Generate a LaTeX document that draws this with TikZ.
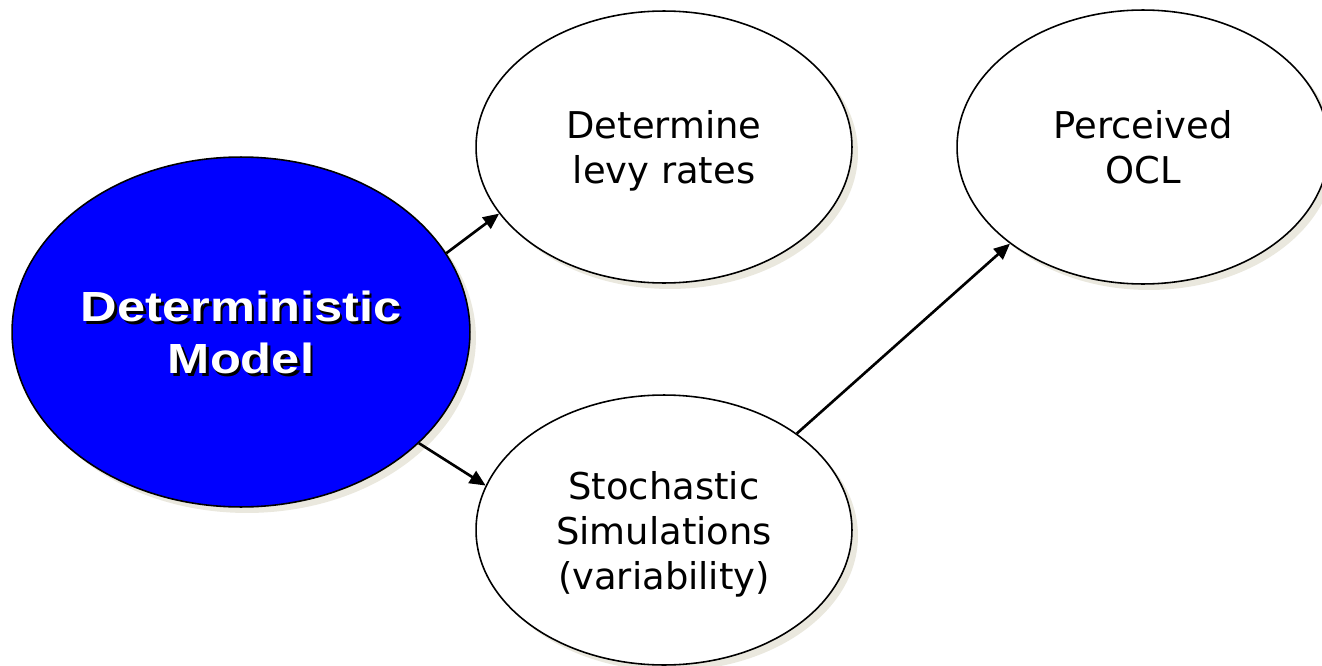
\documentclass[tikz,border=0pt]{standalone}
\usepackage{fontspec}
\setmainfont{DejaVu Sans}
\newfontfamily\titlefont[FakeStretch=1.2]{Liberation Sans}
\usepackage{tikz}
\usetikzlibrary{arrows.meta,shapes.geometric,shadows}
\definecolor{modelblue}{RGB}{0,0,255}
\definecolor{shadebeige}{RGB}{234,232,222}
\newcommand{\shadedword}[1]{\makebox[0pt][l]{\hspace{1.6pt}\raisebox{-1.6pt}{\color{black}#1}}#1}

\begin{document}
\begin{tikzpicture}[x=0.02cm, y=-0.02cm,
    oval/.style={ellipse, draw=black, line width=0.9pt, fill=white,
        inner sep=0pt, align=center, text depth=0pt,
        font=\fontsize{21}{25.6}\selectfont,
        drop shadow={fill=shadebeige, opacity=1,
            shadow xshift=0.12cm, shadow yshift=-0.12cm}},
    arrow/.style={-{Triangle[length=3.2mm, width=2.8mm]}, line width=1.5pt, draw=black}]
\useasboundingbox (0,0) rectangle (1322,666);

\node[oval, fill=modelblue, text=white, minimum width=9.16cm, minimum height=7cm,
      font=\titlefont\bfseries\fontsize{24}{29.6}\selectfont] (det) at (241,332)
      {\shadedword{Deterministic}\\\shadedword{Model}};
\node[oval, minimum width=7.52cm, minimum height=5.44cm] (levy) at (664,147)
      {Determine\\levy rates};
\node[oval, minimum width=7.44cm, minimum height=5.48cm] (ocl)  at (1143,147)
      {Perceived\\OCL};
\node[oval, minimum width=7.52cm, minimum height=5.4cm]  (sim)  at (664,530)
      {Stochastic\\Simulations\\(variability)};

\draw[arrow] (det.21)  -- (levy.202);
\draw[arrow] (det.-32) -- (sim.166);
\draw[arrow] (sim.36)  -- (ocl.216);
\end{tikzpicture}
\end{document}
